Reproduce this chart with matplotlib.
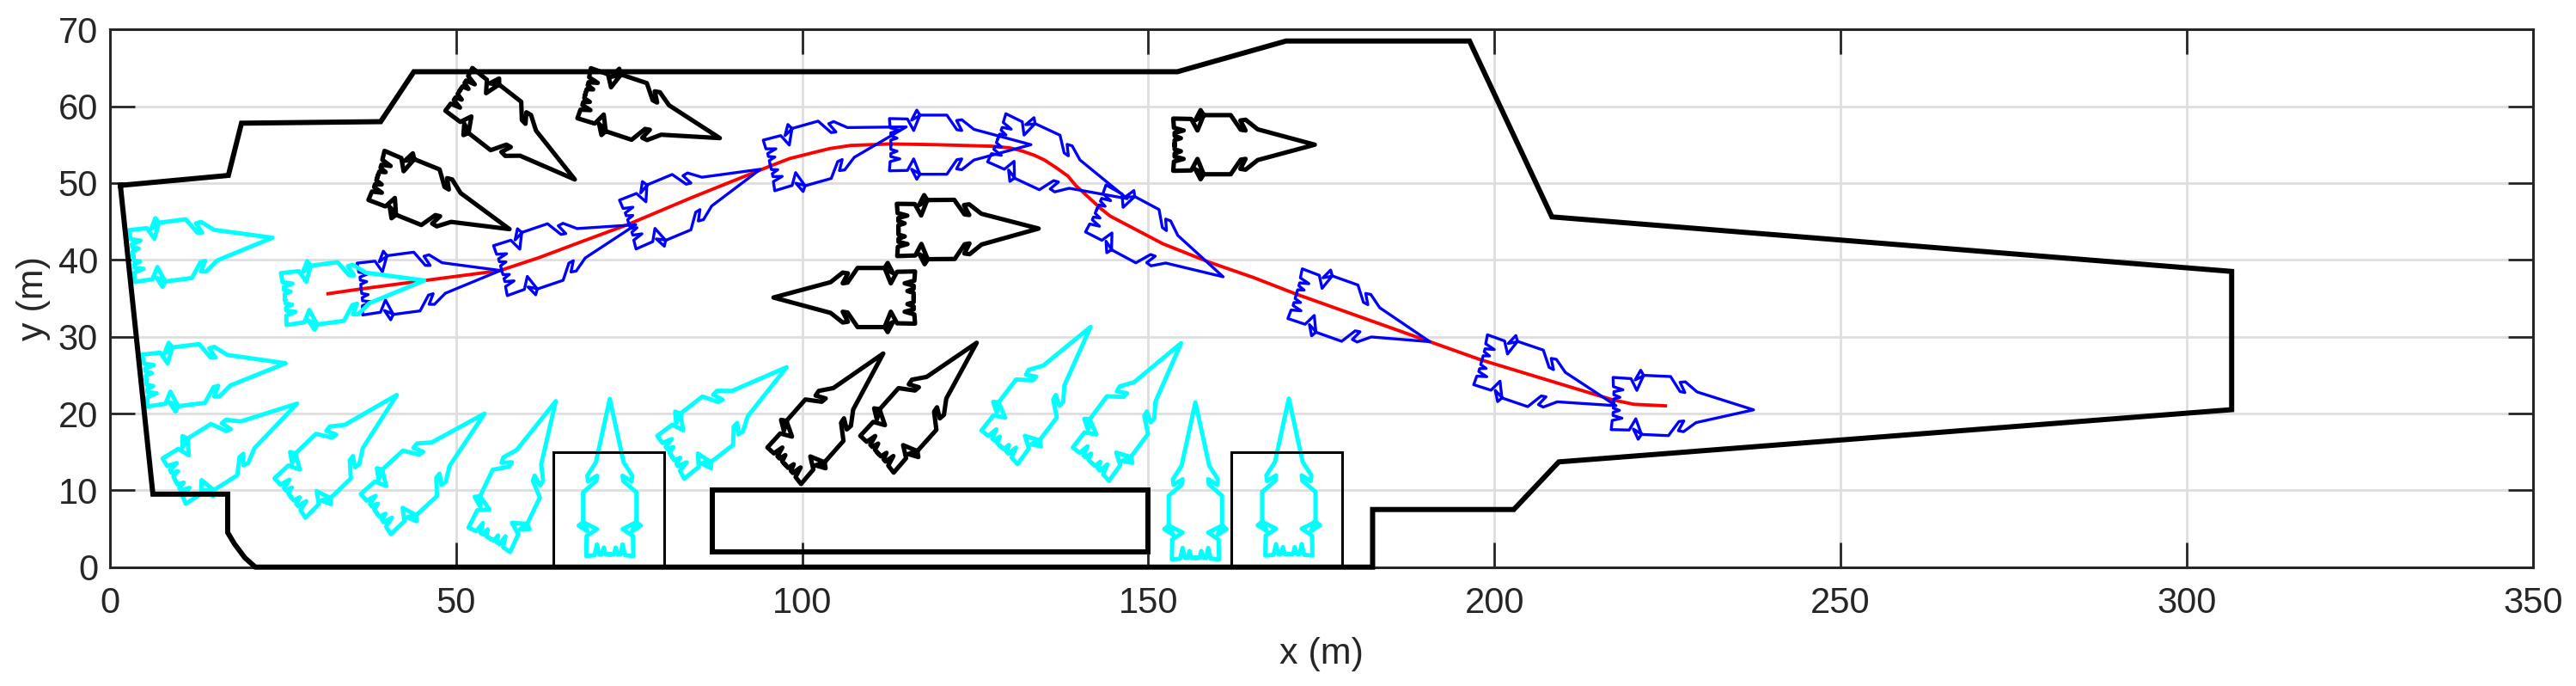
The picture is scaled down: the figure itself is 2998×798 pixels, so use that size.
import numpy as np
import matplotlib
matplotlib.use("Agg")
import matplotlib.pyplot as plt

plt.rcParams["font.family"] = ["Liberation Sans", "DejaVu Sans"]

# apron boundary
border_x = [1.5, 17.1, 19, 39.1, 43.9, 154.2, 169.9, 196.4, 208.3, 306.5, 306.5,
            209.3, 202.8, 182.4, 182.4, 21, 19.5, 18, 17, 17, 6.2, 1.5]
border_y = [49.7, 51, 57.8, 58, 64.5, 64.5, 68.5, 68.5, 45.6, 38.5, 20.5,
            13.7, 7.5, 7.5, 0, 0, 1.2, 3, 4.5, 9.5, 9.5, 49.7]

# terminal block and the two parking boxes
block_x = [87, 150, 150, 87, 87]
block_y = [2, 2, 10, 10, 2]
box1_x = [64, 80, 80, 64, 64]
box2_x = [162, 178, 178, 162, 162]
box_y = [0, 0, 15, 15, 0]

# upper half of the aircraft outline, tail centre to nose, metres
plane_dx = [0.2, 0.2, 1.1, 0.2, 0.2, 1.5, 0.1, 0, 2.6, 3.5, 4.4, 3.95, 3.2, 4.5, 8.3,
            9.75, 10.45, 9.7, 10.45, 12.2, 20.45]
plane_dy = [0, 0.6, 0.85, 1.15, 1.55, 1.85, 2.2, 3.4, 3.35, 1.85, 3.85, 4.5, 3.2, 3.85, 3.85,
            1.95, 1.85, 3.15, 3.25, 2.0, 0]

# tail centre x, y and heading in degrees
cyan_x = [3.15, 25.1, 5.05, 9.27, 26, 38.4, 54.8, 72.2, 81, 128.5, 141.7, 156.8, 170.3]
cyan_y = [40.5, 34.9, 24.3, 11.2, 9, 6.9, 3.55, 1.45, 14.3, 15.6, 13.4, 1, 1.5]
cyan_h = [6.7, 6.8, 6.3, 29.6, 41, 39.8, 62, 90, 35, 50, 50.4, 90, 90]

black_x = [68.5, 50.4, 38.5, 153.6, 113.7, 116.3, 97.4, 110.8]
black_y = [61.7, 62.2, 51, 55, 43.9, 35.1, 13.2, 14.7]
black_h = [-16.6, -35, -20, 0, 0.5, 180, 45.6, 45.2]

blue_x = [36.1, 56.4, 74.8, 95.2, 112.6, 128.1, 142.4, 171.2, 198, 217]
blue_y = [36.2, 38.6, 44.6, 52.3, 55, 55.9, 46.7, 35.6, 27, 21.3]
blue_h = [6.8, 17, 20.6, 14.2, 0, -22.8, -25.8, -17.8, -17, -2.3]

# taxi path
path_x = [31.5, 36.1, 45.3, 56.3, 62, 68.5, 74.8, 84, 90.9, 95.6, 98.2, 101.3, 104, 107, 109.9,
          112.7, 119.4, 127.4, 129.9, 131.7, 133.6, 135, 136.7, 138.4, 139.5, 140.7, 143.1,
          144.5, 146.4, 152.1, 158.8, 165.2, 171.2, 190.2, 198, 217, 220.1, 224.7]
path_y = [35.6, 36.2, 37.3, 38.6, 40.3, 42.5, 44.6, 48.1, 50.6, 52.3, 53.2, 53.9, 54.5, 54.9, 55,
          55.1, 55, 54.8, 54.6, 54.2, 53.6, 53, 52, 50.9, 49.7, 48.7, 46.7,
          45.7, 44.8, 42.1, 39.7, 37.7, 35.6, 29.5, 27, 21.8, 21.2, 21]

x_ticks = [0, 50, 100, 150, 200, 250, 300, 350]
y_ticks = [0, 10, 20, 30, 40, 50, 60, 70]


# turns the outline to a pose, stays in data coordinates
def plane_outline(x0, y0, heading):
    dx = np.array(plane_dx + plane_dx[-2::-1])
    dy = np.array(plane_dy + [-v for v in plane_dy[-2::-1]])
    a = np.radians(heading)
    return (x0 + dx * np.cos(a) - dy * np.sin(a),
            y0 + dx * np.sin(a) + dy * np.cos(a))


def draw_planes(ax, xs, ys, hs, color, lw, zorder):
    for x0, y0, h in zip(xs, ys, hs):
        px, py = plane_outline(x0, y0, h)
        ax.plot(px, py, color=color, lw=lw, zorder=zorder,
                solid_joinstyle="round", clip_on=False)


fig = plt.figure(figsize=(29.98, 7.98), dpi=100)
ax = fig.add_axes([128 / 2998, 1 - 659.7 / 798, (2947.7 - 128) / 2998, (659.7 - 34.3) / 798])

ax.plot(path_x, path_y, color="#ff0000", lw=2.8, zorder=3)
draw_planes(ax, blue_x, blue_y, blue_h, "#0000ff", 2.4, 4)
draw_planes(ax, cyan_x, cyan_y, cyan_h, "#00ffff", 3.6, 5)
draw_planes(ax, black_x, black_y, black_h, "black", 3.7, 6)

ax.plot(border_x, border_y, color="black", lw=4.3, zorder=7, clip_on=False, solid_joinstyle="miter")
ax.plot(block_x, block_y, color="black", lw=4.3, zorder=7, solid_joinstyle="miter")
ax.plot(box1_x, box_y, color="black", lw=2.2, zorder=7, solid_joinstyle="miter")
ax.plot(box2_x, box_y, color="black", lw=2.2, zorder=7, solid_joinstyle="miter")

ax.set_xlim(0, 350)
ax.set_ylim(0, 70)
ax.set_xticks(x_ticks)
ax.set_yticks(y_ticks)
ax.grid(True, color="#dedede", lw=2.0)
ax.set_axisbelow(True)
ax.tick_params(direction="in", length=20.6, width=2.0, color="#262626", labelcolor="#262626",
               labelsize=30, top=True, right=True)
ax.tick_params(axis="x", pad=16)
ax.tick_params(axis="y", pad=10)
for s in ax.spines.values():
    s.set_linewidth(2.2)
    s.set_color("#262626")

ax.set_xlabel("x (m)", fontsize=31, color="#262626", labelpad=14)
ax.set_ylabel("y (m)", fontsize=31, color="#262626", labelpad=6)

fig.savefig("out.png", dpi=100, facecolor="white")
